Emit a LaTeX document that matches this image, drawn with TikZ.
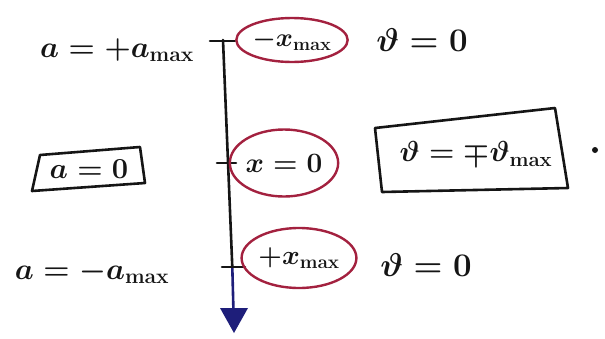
\RequirePackage{fix-cm}
\documentclass[tikz,border=0pt]{standalone}
\usetikzlibrary{shapes.geometric}
\definecolor{ink}{HTML}{151515}
\definecolor{rim}{HTML}{A3213F}
\definecolor{navy}{HTML}{1E1E7A}
\newcommand{\fsz}[1]{\fontsize{#1}{#1}\selectfont\boldmath}
\newcommand{\mx}{\mathbf{max}}
\begin{document}
\begin{tikzpicture}[x=1pt,y=-1pt,
  lbl/.style={font=\fsz{30}, text=ink, inner sep=0pt},
  oval/.style={ellipse, draw=rim, line width=2.4pt, inner sep=0pt},
  pen/.style={draw=ink, line width=2.6pt, line cap=round, line join=round}]
\useasboundingbox (0,0) rectangle (605,338);
% axis
\coordinate (top) at (223,40);
\coordinate (mid) at (228,163);
\coordinate (low) at (232.3,267);
\coordinate (tip) at (234,333);
\coordinate (base) at (233.4,309);
\draw[pen] (top) -- (low);
\draw[draw=navy, line width=2.6pt] (low) -- (base);
\fill[navy] (220,308) -- (248,308) -- (tip) -- cycle;
% ticks
\draw[pen] (210,41) -- (235,41);
\draw[pen] (217,163) -- (236,163);
\draw[pen] (222,267) -- (245,267);
% position ellipses
\node[oval, minimum width=103pt, minimum height=44pt, lbl, font=\fsz{26}] (xneg) at (292,40) {$-x_{\mx}$};
\node[oval, minimum width=102pt, minimum height=67pt, lbl, font=\fsz{28}] (xzero) at (284,163) {$x=0$};
\node[oval, minimum width=98pt, minimum height=60pt, lbl, font=\fsz{27}] (xpos) at (299,258) {$+x_{\mx}$};
% acceleration
\node[lbl] (atop) at (117,50) {$a=+a_{\mx}$};
\node[lbl, font=\fsz{29}] (azero) at (89,169) {$a=0$};
\draw[pen] (40,155) -- (140,147) -- (145,183) -- (32,191) -- cycle;
\node[lbl] (aneg) at (92,272) {$a=-a_{\mx}$};
% velocity
\node[lbl, font=\fsz{33}] (vtop) at (422,40) {$\vartheta=0$};
\node[lbl, font=\fsz{29}] (vmid) at (476,154) {$\vartheta=\mp\vartheta_{\mx}$};
\draw[pen] (375,128) -- (555,108) -- (568,188) -- (382,192) -- cycle;
\node[lbl, font=\fsz{33}] (vbot) at (426,265) {$\vartheta=0$};
\fill[ink] (595,150) circle (3pt);
\end{tikzpicture}
\end{document}
